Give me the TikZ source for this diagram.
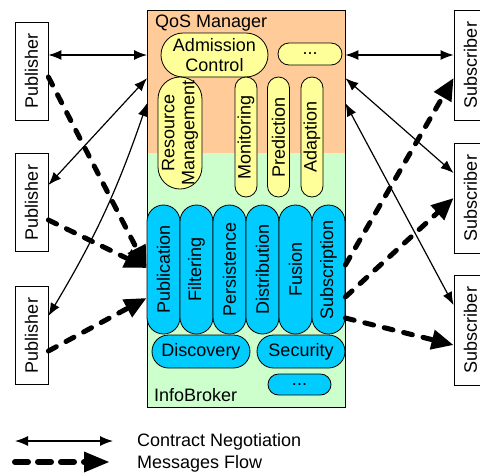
\documentclass[tikz,border=0pt]{standalone}
\usepackage{fontspec}
\setmainfont{Liberation Sans}
\usetikzlibrary{arrows.meta, positioning, calc}
\definecolor{qosorange}{HTML}{FFCC99}
\definecolor{brokergreen}{HTML}{CCFFCC}
\definecolor{svcyellow}{HTML}{FFFF99}
\definecolor{svcblue}{HTML}{00CCFF}

\begin{document}
\begin{tikzpicture}[
    x=1pt, y=1pt,
    font=\fontsize{18}{20}\selectfont,
    endbox/.style={draw, line width=0.8pt, fill=white, rotate=90, inner sep=0pt, minimum height=33pt},
    ypill/.style={draw, line width=0.8pt, fill=svcyellow, rounded corners=#1, inner sep=0pt, align=center},
    bpill/.style={draw, line width=0.8pt, fill=svcblue, rounded corners=#1, inner sep=0pt, align=center},
    plain/.style={anchor=base west, inner sep=0pt},
    nego/.style={{Latex[length=13pt,width=10pt]}-{Latex[length=13pt,width=10pt]}, line width=1.2pt},
    msg/.style={-{Triangle[length=22pt,width=19pt]}, line width=5pt, line cap=round, dash pattern=on 9pt off 11pt},
]
\useasboundingbox (0,0) rectangle (480,-475);

% QoS Manager / InfoBroker body
\node[fill=qosorange, minimum width=198pt, minimum height=143pt, anchor=north west, inner sep=0pt] (qos) at (147,-10) {};
\node[fill=brokergreen, minimum width=198pt, minimum height=254pt, anchor=north west, inner sep=0pt] (broker) at (147,-153) {};
\draw[line width=0.8pt] (qos.north west) rectangle (broker.south east);
\node[plain] (qoslbl) at (155,-27) {QoS Manager};
\node[plain] (iblbl) at (154,-401) {InfoBroker};

% QoS services
\node[ypill=22pt, minimum width=107pt, minimum height=44pt] (admit) at (214.5,-55) {Admission\\Control};
\node[ypill=11pt, minimum width=64pt, minimum height=22pt] (qdots) at (310,-54) {...};
\node[ypill=22pt, rotate=90, minimum width=112pt, minimum height=44pt] (resmgmt) at (180,-133) {Resource\\Management};
\node[ypill=11pt, rotate=90, minimum width=120pt, minimum height=22pt] (monit) at (246,-137) {Monitoring};
\node[ypill=11pt, rotate=90, minimum width=120pt, minimum height=22pt] (predict) at (278.5,-137) {Prediction};
\node[ypill=11pt, rotate=90, minimum width=120pt, minimum height=22pt] (adapt) at (312,-137) {Adaption};

% Broker services
\foreach \nm/\txt [count=\i from 0] in {pubn/Publication, filt/Filtering, persist/Persistence, distrib/Distribution, fusion/Fusion, subs/Subscription} {
    \node[bpill=16.5pt, rotate=90, minimum width=129pt, minimum height=33pt] (\nm) at (163.5+33*\i,-269.5) {\txt};
}
\node[bpill=16.5pt, minimum width=98pt, minimum height=33pt] (discov) at (201,-351.5) {Discovery};
\node[bpill=16.5pt, minimum width=88pt, minimum height=33pt] (secur) at (301,-351.5) {Security};
\node[bpill=10.5pt, minimum width=63pt, minimum height=21pt] (bdots) at (299.5,-384.5) {...};

% Publishers and subscribers
\node[endbox, minimum width=98pt] (pub1) at (31.5,-71) {Publisher};
\node[endbox, minimum width=98pt] (pub2) at (31.5,-202.5) {Publisher};
\node[endbox, minimum width=98pt] (pub3) at (31.5,-335.5) {Publisher};
\node[endbox, minimum width=110pt] (sub1) at (470.5,-65) {Subscriber};
\node[endbox, minimum width=110pt] (sub2) at (470.5,-198) {Subscriber};
\node[endbox, minimum width=110pt] (sub3) at (470.5,-330) {Subscriber};

% Contract negotiation
\draw[nego] ([yshift=16pt]pub1.south) -- ([yshift=16pt]pub1.south -| qos.west);
\draw[nego] ([yshift=17.5pt]pub2.south) -- ([yshift=3.5pt]qos.west);
\draw[nego] ([yshift=19.5pt]pub3.south) to[bend right=6] ([yshift=-21.5pt]qos.west);
\draw[nego] ([yshift=10pt]sub1.north) -- ([yshift=10pt]sub1.north -| qos.east);
\draw[nego] ([yshift=25pt]sub2.north) -- ([yshift=3.5pt]qos.east);
\draw[nego] ([yshift=25pt]sub3.north) -- ([yshift=-21.5pt]qos.east);

% Message flows
\draw[msg] ([yshift=-6pt]pub1.south) -- ([yshift=1.5pt]pubn.north);
\draw[msg] ([yshift=-17.5pt]pub2.south) -- ([yshift=1.5pt]pubn.north);
\draw[msg] ([yshift=-15.5pt]pub3.south) -- ([yshift=-28.5pt]pubn.north);
\draw[msg] ([yshift=4.5pt]subs.south) -- ([yshift=-13pt]sub1.north);
\draw[msg] ([yshift=-27.5pt]subs.south) -- (sub2.north);
\draw[msg] ([yshift=-48.5pt]subs.south) -- ([yshift=-15pt]sub3.north);

% Legend
\coordinate (negL) at (15,-441);
\coordinate (negR) at (113,-441);
\coordinate (msgL) at (15,-462);
\coordinate (msgR) at (110,-462);
\draw[nego] (negL) -- (negR);
\draw[msg, line width=6pt, dash pattern=on 13pt off 10pt, -{Triangle[length=26pt,width=19pt]}] (msgL) -- (msgR);
\node[plain] (neglbl) at (137,-446) {Contract Negotiation};
\node[plain] (msglbl) at (137,-468) {Messages Flow};

\end{tikzpicture}
\end{document}
